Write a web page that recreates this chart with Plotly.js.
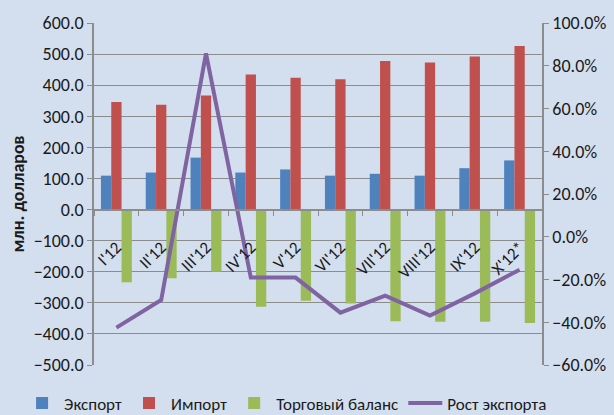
<!DOCTYPE html>
<html>
<head>
<meta charset="utf-8">
<script src="https://cdn.plot.ly/plotly-3.0.1.min.js"></script>
<style>html,body{margin:0;padding:0;background:#D3DFEE;}</style>
</head>
<body>
<div id="chart" style="width:614px;height:415px;"></div>
<script>
const categories = ["I'12", "II'12", "III'12", "IV'12", "V'12", "VI'12", "VII'12", "VIII'12", "IX'12", "X'12*"];
const exportVals = [109, 119, 167, 119, 129, 109, 115, 109, 133, 158];
const importVals = [346, 337, 367, 434, 424, 419, 478, 473, 492, 526];
const balanceVals = [-234, -221, -200, -313, -293, -302, -359, -361, -361, -365];
const growthVals = [-0.425, -0.296, 0.858, -0.191, -0.191, -0.355, -0.276, -0.369, -0.265, -0.154];

const FONT = "Carlito, Lato, 'Open Sans', sans-serif";
const traces = [
  {type: 'bar', name: 'Экспорт', x: categories, y: exportVals, marker: {color: '#4F81BD'}},
  {type: 'bar', name: 'Импорт', x: categories, y: importVals, marker: {color: '#C0504D'}},
  {type: 'bar', name: 'Торговый баланс', x: categories, y: balanceVals, marker: {color: '#9BBB59'}},
  {type: 'scatter', mode: 'lines', name: 'Рост экспорта', x: categories, y: growthVals, yaxis: 'y2',
   line: {color: '#8064A2', width: 4}}
];
const layout = {
  width: 614, height: 415,
  margin: {l: 94, r: 72, t: 23, b: 50, autoexpand: false},
  paper_bgcolor: '#D3DFEE', plot_bgcolor: '#D3DFEE',
  font: {family: FONT, size: 18, color: '#1a1a1a'},
  barmode: 'group', bargap: 0.31, bargroupgap: 0,
  showlegend: true,
  legend: {orientation: 'h', x: -0.165, xanchor: 'left', y: -0.06, yanchor: 'top',
           font: {size: 17}, itemwidth: 34, tracegroupgap: 0, traceorder: 'normal', bgcolor: 'rgba(0,0,0,0)'},
  xaxis: {type: 'category', anchor: 'free', position: 0.4532, showgrid: false,
          showline: true, linecolor: '#8c8c8c', linewidth: 1.5,
          ticks: 'outside', tickson: 'boundaries', ticklen: 5, tickcolor: '#8c8c8c',
          tickangle: -45, tickfont: {size: 17}, ticklabelstandoff: 20},
  yaxis: {range: [-500, 600], dtick: 100, tickformat: '.1f', gridcolor: '#8c8c8c', gridwidth: 1.2,
          showline: true, linecolor: '#8c8c8c', linewidth: 1.5, ticks: 'outside', ticklen: 5, tickcolor: '#8c8c8c',
          zeroline: false,
          title: {text: 'млн. долларов', font: {size: 18, weight: 'bold'}, standoff: 4}},
  yaxis2: {range: [-0.6, 1.0], dtick: 0.2, tickformat: '.1%', overlaying: 'y', side: 'right',
           showgrid: false, zeroline: false, showline: true, linecolor: '#8c8c8c', linewidth: 1.5,
           ticks: 'outside', ticklen: 5, tickcolor: '#8c8c8c'}
};
Plotly.newPlot('chart', traces, layout, {displayModeBar: false});
</script>
</body>
</html>
